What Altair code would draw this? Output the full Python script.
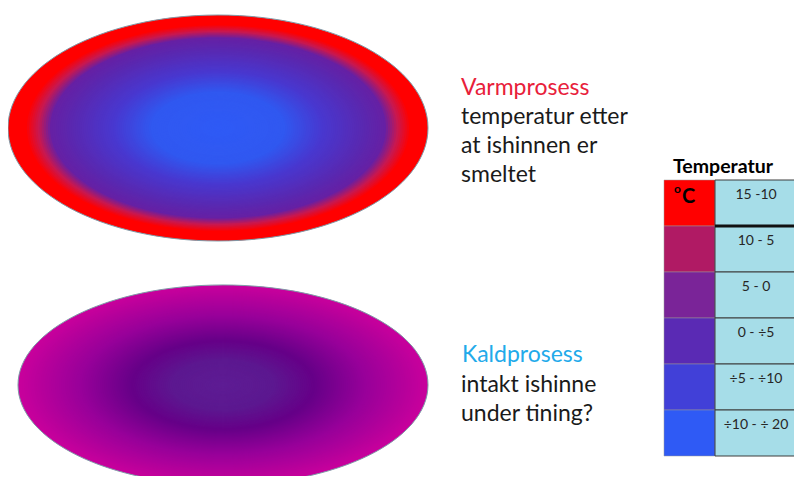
import altair as alt
import pandas as pd
import numpy as np

# ---- colour stops (0 = centre of ellipse, 1 = rim) ----
warm_stops = [0.0, 0.32, 0.5, 0.7, 0.8, 0.86, 0.92, 1.0]
warm_colors = ["#2f5af6", "#3058f0", "#4838d0", "#5a28b0", "#6620a4", "#c81850", "#ff0000", "#ff0000"]
cold_stops = [0.0, 0.25, 0.45, 0.7, 1.0]
cold_colors = ["#5e1c94", "#5c1890", "#660088", "#98009a", "#c8009c"]

# ---- texts ----
warm_title = "Varmprosess"
warm_lines = ["temperatur etter", "at ishinnen er", "smeltet"]
cold_title = "Kaldprosess"
cold_lines = ["intakt ishinne", "under tining?"]

legend_title = "Temperatur"
legend_sup = "o"
legend_unit = "C"
ranges = ["15 -10", "10 - 5", "5 - 0", "0 - ÷5", "÷5 - ÷10", "÷10 - ÷ 20"]
range_colors = ["#ff0000", "#b01a64", "#7a2498", "#5a2ab4", "#4140d8", "#2f5af5"]

FONT = "Lato"

# rendering rings for the radial shading
levels = np.round(np.arange(1.0, 0.0, -0.01), 3)


def ellipse_path(k):
    K = 0.5523
    return (f"M -1 0 C -1 {-k*K:.4f} {-K} {-k:.4f} 0 {-k:.4f} "
            f"C {K} {-k:.4f} 1 {-k*K:.4f} 1 0 "
            f"C 1 {k*K:.4f} {K} {k:.4f} 0 {k:.4f} "
            f"C {-K} {k:.4f} -1 {k*K:.4f} -1 0 Z")


def ellipse(cx, cy, w, aspect, stops, colors):
    df = pd.DataFrame({"t": levels})
    shape = ellipse_path(aspect)
    fill = alt.Chart(df).mark_point(
        filled=True, opacity=1, strokeWidth=0, shape=shape
    ).encode(
        x=alt.value(cx), y=alt.value(cy),
        size=alt.Size("t:Q", scale=alt.Scale(type="pow", exponent=2, domain=[0, 1], range=[0, w * w]), legend=None),
        color=alt.Color("t:Q", scale=alt.Scale(domain=stops, range=colors, interpolate="rgb"), legend=None),
        order=alt.Order("t:Q", sort="descending"),
    )
    outline = alt.Chart(pd.DataFrame({"t": [1.0]})).mark_point(
        filled=False, opacity=1, shape=shape, size=w * w, stroke="#7f9aa8", strokeWidth=1
    ).encode(x=alt.value(cx), y=alt.value(cy))
    return [fill, outline]


def text(t, x, y, size, color, weight="normal", line_height=None, align="left"):
    kw = dict(align=align, baseline="alphabetic", font=FONT, fontSize=size, color=color, fontWeight=weight)
    if line_height:
        kw.update(lineBreak="\n", lineHeight=line_height)
    return alt.Chart(pd.DataFrame({"txt": [t]})).mark_text(**kw).encode(
        text="txt:N", x=alt.value(x), y=alt.value(y))


layers = []
layers += ellipse(210, 120, 420, 0.538, warm_stops, warm_colors)
layers += ellipse(215, 377, 410, 0.488, cold_stops, cold_colors)

layers.append(text(warm_title, 453, 87, 23, "#e8203a"))
layers.append(text("\n".join(warm_lines), 453, 116, 23, "#1a1a1a", line_height=29))
layers.append(text(cold_title, 454, 354, 23, "#22aaea"))
layers.append(text("\n".join(cold_lines), 453, 384, 23, "#1a1a1a", line_height=29))

# ---- legend table ----
tdf = pd.DataFrame({"range": ranges, "color": range_colors})
yband = alt.Y("range:N", sort=ranges,
              scale=alt.Scale(domain=ranges, range=[172, 448], paddingInner=0, paddingOuter=0),
              axis=None)

left = alt.Chart(tdf).mark_rect(stroke="#9a9a9a", strokeWidth=0.5).encode(
    y=yband, x=alt.value(656), x2=alt.value(707),
    color=alt.Color("range:N", sort=ranges, scale=alt.Scale(domain=ranges, range=range_colors), legend=None),
)
right = alt.Chart(tdf).mark_rect(fill="#a6dde8", stroke="#3c3c3c", strokeWidth=1).encode(
    y=yband, x=alt.value(707), x2=alt.value(800),
)
thick = alt.Chart(tdf.iloc[[0]]).mark_rule(color="#111111", strokeWidth=3).encode(
    y=alt.Y("range:N", sort=ranges, bandPosition=1, axis=None,
            scale=alt.Scale(domain=ranges, range=[172, 448], paddingInner=0, paddingOuter=0)),
    x=alt.value(707), x2=alt.value(800),
)
labels = alt.Chart(tdf).mark_text(font=FONT, fontSize=14, color="#262626", dy=-8,
                                  align="center", baseline="middle").encode(
    y=yband, x=alt.value(748), text="range:N",
)
layers += [left, right, thick, labels]
layers.append(text(legend_title, 665, 165, 19.5, "#000000", weight="bold"))
layers.append(text(legend_sup, 666, 185, 12, "#000000", weight="bold"))
layers.append(text(legend_unit, 674, 195, 20, "#000000", weight="bold"))

chart = alt.layer(*layers).resolve_scale(
    color="independent", size="independent"
).properties(
    width=786, height=468,
    autosize=alt.AutoSizeParams(type="none"),
    padding=0,
    background="white",
).configure_view(strokeWidth=0)

chart.save("out.html", embed_options={"renderer": "svg", "actions": False})
